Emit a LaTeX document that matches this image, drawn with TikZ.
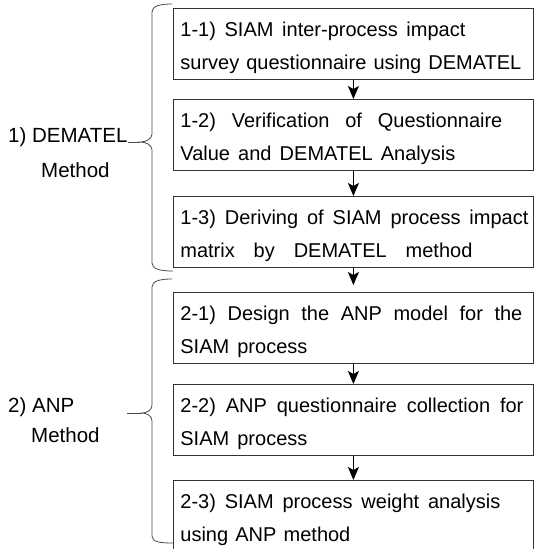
\documentclass[tikz,border=0pt]{standalone}
\usepackage{fontspec}
\setmainfont{Liberation Sans}
\usetikzlibrary{arrows.meta}
% one text line spread to a given width (word spaces may stretch)
\newcommand\fitline[2]{\makebox[#1pt][s]{\spaceskip=0pt\xspaceskip=0pt #2}}
\newcommand\firstline[2]{\rule{0pt}{22pt}\fitline{#1}{#2}}
\begin{document}
\begin{tikzpicture}[x=1pt,y=-1pt,
  stepbox/.style={draw=black!80, line width=0.8pt, minimum width=360pt,
    minimum height=71pt, text width=346pt, inner xsep=7pt, inner ysep=0pt,
    align=left, anchor=north west, font=\fontsize{20}{33}\selectfont},
  flow/.style={-{Stealth[length=13pt,width=11pt,inset=3pt]}, line width=1pt},
  brace/.style={draw=black!70, line width=0.8pt},
  lbl/.style={anchor=base west, inner sep=0pt, font=\fontsize{20.5}{25}\selectfont}]

\fill[white] (0,0) rectangle (535,549);
\useasboundingbox (0,0) rectangle (535,549);

% DEMATEL steps
\node[stepbox] (s11) at (173,8)
  {\firstline{285}{1-1) SIAM inter-process impact}\\\fitline{341}{survey questionnaire using DEMATEL}};
\node[stepbox] (s12) at (173,99)
  {\firstline{322}{1-2) Verification of Questionnaire}\\\fitline{275}{Value and DEMATEL Analysis}};
\node[stepbox] (s13) at (173,196)
  {\firstline{348}{1-3) Deriving of SIAM process impact}\\\fitline{292}{matrix by DEMATEL method}};

% ANP steps
\node[stepbox] (s21) at (173,292)
  {\firstline{342}{2-1) Design the ANP model for the}\\\fitline{127}{SIAM process}};
\node[stepbox] (s22) at (173,384)
  {\firstline{343}{2-2) ANP questionnaire collection for}\\\fitline{127}{SIAM process}};
\node[stepbox] (s23) at (173,480)
  {\firstline{320}{2-3) SIAM process weight analysis}\\\fitline{170}{using ANP method}};

% flow arrows
\draw[flow] (s11.south) -- (s12.north);
\draw[flow] (s12.south) -- (s13.north);
\draw[flow, shorten >=7pt] (s13.south) -- (s21.north);
\draw[flow] (s21.south) -- (s22.north);
\draw[flow] (s22.south) -- (s23.north);

% group labels
\node[lbl] (m1a) at (8,142) {1) DEMATEL};
\node[lbl] (m1b) at (41,177) {Method};
\node[lbl] (m2a) at (8,412) {2) ANP};
\node[lbl] (m2b) at (31,442) {Method};

% braces
\coordinate (c1) at (140,142);
\draw[brace] (172,4) .. controls (160,4) and (152,6) .. (152,12) -- (152,134)
  .. controls (152,139) and (146,142) .. (c1)
  .. controls (146,142) and (152,145) .. (152,150) -- (152,263)
  .. controls (152,269) and (160,271) .. (173,271);
\draw[brace] (m1a.base east) -- (c1);

\coordinate (c2) at (142,413);
\coordinate (t2) at (127,413);
\draw[brace] (172,279) .. controls (160,279) and (152,281) .. (152,287) -- (152,405)
  .. controls (152,410) and (147,413) .. (c2)
  .. controls (147,413) and (152,416) .. (152,421) -- (152,536)
  .. controls (152,542) and (160,543) .. (173,543);
\draw[brace] (t2) -- (c2);
\end{tikzpicture}
\end{document}
